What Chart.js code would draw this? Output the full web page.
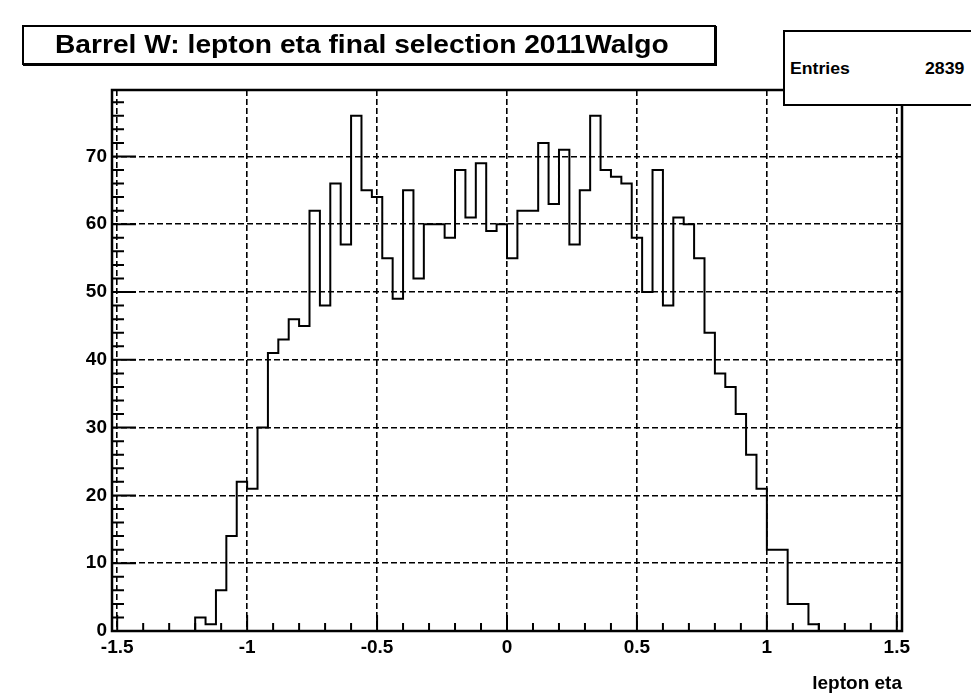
<!DOCTYPE html>
<html>
<head>
<meta charset="utf-8">
<title>lepton eta</title>
<script src="https://cdn.jsdelivr.net/npm/chart.js@4.4.0/dist/chart.umd.min.js"></script>
<style>
  html, body { margin: 0; padding: 0; background: #fff; overflow: hidden; }
  #wrap { position: relative; width: 971px; height: 697px; overflow: hidden; }
  #etaChart { position: absolute; left: 0; top: 0; }
  .pave {
    position: absolute;
    background: #fff;
    border: 2px solid #000;
    box-sizing: border-box;
    font-family: "Liberation Sans", Arial, Helvetica, sans-serif;
    font-weight: bold;
    color: #000;
    white-space: nowrap;
  }
  .pave span { position: absolute; transform-origin: left center; }
  #histTitle { left: 22px; top: 25px; width: 694px; height: 40px; box-shadow: 1px 1px 0 #000; }
  #histTitle span { left: 31px; top: 5px; font-size: 25px; line-height: 25px; transform: scaleX(1.127); }
  #statsBox { left: 783px; top: 30px; width: 230px; height: 76px; }
  #statsBox span { top: 28px; font-size: 17px; line-height: 18px; transform: scaleX(1.04); }
  #statsBox .lbl { left: 5px; }
  #statsBox .val { left: 140px; }
</style>
</head>
<body>
<div id="wrap">
  <canvas id="etaChart" width="971" height="697"></canvas>
  <div class="pave" id="histTitle"><span>Barrel W: lepton eta final selection 2011Walgo</span></div>
  <div class="pave" id="statsBox"><span class="lbl">Entries</span><span class="val">2839</span></div>
</div>
<script>
// lepton eta histogram, 0.04 wide bins (only the filled range is listed)
const BIN_WIDTH = 0.04;
const binLow = [
  -1.20, -1.16, -1.12, -1.08, -1.04, -1.00, -0.96, -0.92, -0.88, -0.84,
  -0.80, -0.76, -0.72, -0.68, -0.64, -0.60, -0.56, -0.52, -0.48, -0.44,
  -0.40, -0.36, -0.32, -0.28, -0.24, -0.20, -0.16, -0.12, -0.08, -0.04,
   0.00,  0.04,  0.08,  0.12,  0.16,  0.20,  0.24,  0.28,  0.32,  0.36,
   0.40,  0.44,  0.48,  0.52,  0.56,  0.60,  0.64,  0.68,  0.72,  0.76,
   0.80,  0.84,  0.88,  0.92,  0.96,  1.00,  1.04,  1.08,  1.12,  1.16
];
const counts = [
   2,  1,  6, 14, 22, 21, 30, 41, 43, 46,
  45, 62, 48, 66, 57, 76, 65, 64, 55, 49,
  65, 52, 60, 60, 58, 68, 61, 69, 59, 60,
  55, 62, 62, 72, 63, 71, 57, 65, 76, 68,
  67, 66, 58, 50, 68, 48, 61, 60, 55, 44,
  38, 36, 32, 26, 21, 12, 12,  4,  4,  1
];
const X_MIN = -1.52, X_MAX = 1.52;
const Y_MAX = 79.8;
const xTicks = [-1.5, -1, -0.5, 0, 0.5, 1, 1.5];
const yTicks = [0, 10, 20, 30, 40, 50, 60, 70];

// outline points: each bin's left edge carries its count, closed back down to 0
function buildOutline() {
  const pts = [{ x: X_MIN, y: 0 }];
  binLow.forEach((lo, i) => pts.push({ x: lo, y: counts[i] }));
  pts.push({ x: binLow[binLow.length - 1] + BIN_WIDTH, y: 0 });
  pts.push({ x: X_MAX, y: 0 });
  return pts;
}

// frame box and inward tick marks, ROOT style
const rootFrame = {
  id: 'rootFrame',
  afterDatasetsDraw(chart) {
    const { ctx, chartArea: a, scales: { x, y } } = chart;
    ctx.save();
    ctx.strokeStyle = '#000';
    ctx.lineWidth = 2;
    ctx.beginPath();
    for (let i = 0; i <= 30; i++) {
      const px = x.getPixelForValue(-1.5 + i * 0.1);
      const len = i % 5 === 0 ? 16 : 8;
      ctx.moveTo(px, a.bottom);
      ctx.lineTo(px, a.bottom - len);
    }
    for (let v = 0; v < Y_MAX; v += 2) {
      const py = y.getPixelForValue(v);
      const len = v % 10 === 0 ? 24 : 12;
      ctx.moveTo(a.left, py);
      ctx.lineTo(a.left + len, py);
    }
    ctx.stroke();
    ctx.lineWidth = 2.5;
    ctx.strokeRect(a.left, a.top, a.right - a.left, a.bottom - a.top);
    ctx.restore();
  }
};

const labelFont = { family: '"Liberation Sans", Arial, sans-serif', weight: 'bold', size: 19 };

const ctx = document.getElementById('etaChart').getContext('2d');
new Chart(ctx, {
  type: 'line',
  data: {
    datasets: [{
      data: buildOutline(),
      stepped: 'before',
      borderColor: '#000',
      borderWidth: 2,
      pointRadius: 0,
      fill: false,
    }]
  },
  options: {
    responsive: false,
    animation: false,
    devicePixelRatio: 1,
    layout: { padding: { left: 0, right: 69, top: 90, bottom: 0 } },
    scales: {
      x: {
        type: 'linear',
        min: X_MIN,
        max: X_MAX,
        afterBuildTicks: (scale) => { scale.ticks = xTicks.map(v => ({ value: v })); },
        afterFit: (scale) => { scale.height = 66; },
        ticks: {
          color: '#000',
          font: labelFont,
          padding: 5,
          maxRotation: 0,
          callback: (v) => String(v),
        },
        grid: { color: '#000', lineWidth: 1.6, drawTicks: false },
        border: { display: false, dash: [6, 3] },
        title: {
          display: true,
          text: 'lepton eta',
          align: 'end',
          color: '#000',
          font: { family: '"Liberation Sans", Arial, sans-serif', weight: 'bold', size: 19 },
          padding: { top: 0, bottom: 2 },
        },
      },
      y: {
        type: 'linear',
        min: 0,
        max: Y_MAX,
        afterBuildTicks: (scale) => { scale.ticks = yTicks.map(v => ({ value: v })); },
        afterFit: (scale) => { scale.width = 112; },
        ticks: {
          color: '#000',
          font: labelFont,
          padding: 5,
          callback: (v) => String(v),
        },
        grid: { color: '#000', lineWidth: 1.6, drawTicks: false },
        border: { display: false, dash: [6, 3] },
      }
    },
    plugins: {
      legend: { display: false },
      tooltip: { enabled: false },
    },
  },
  plugins: [rootFrame],
});
</script>
</body>
</html>
